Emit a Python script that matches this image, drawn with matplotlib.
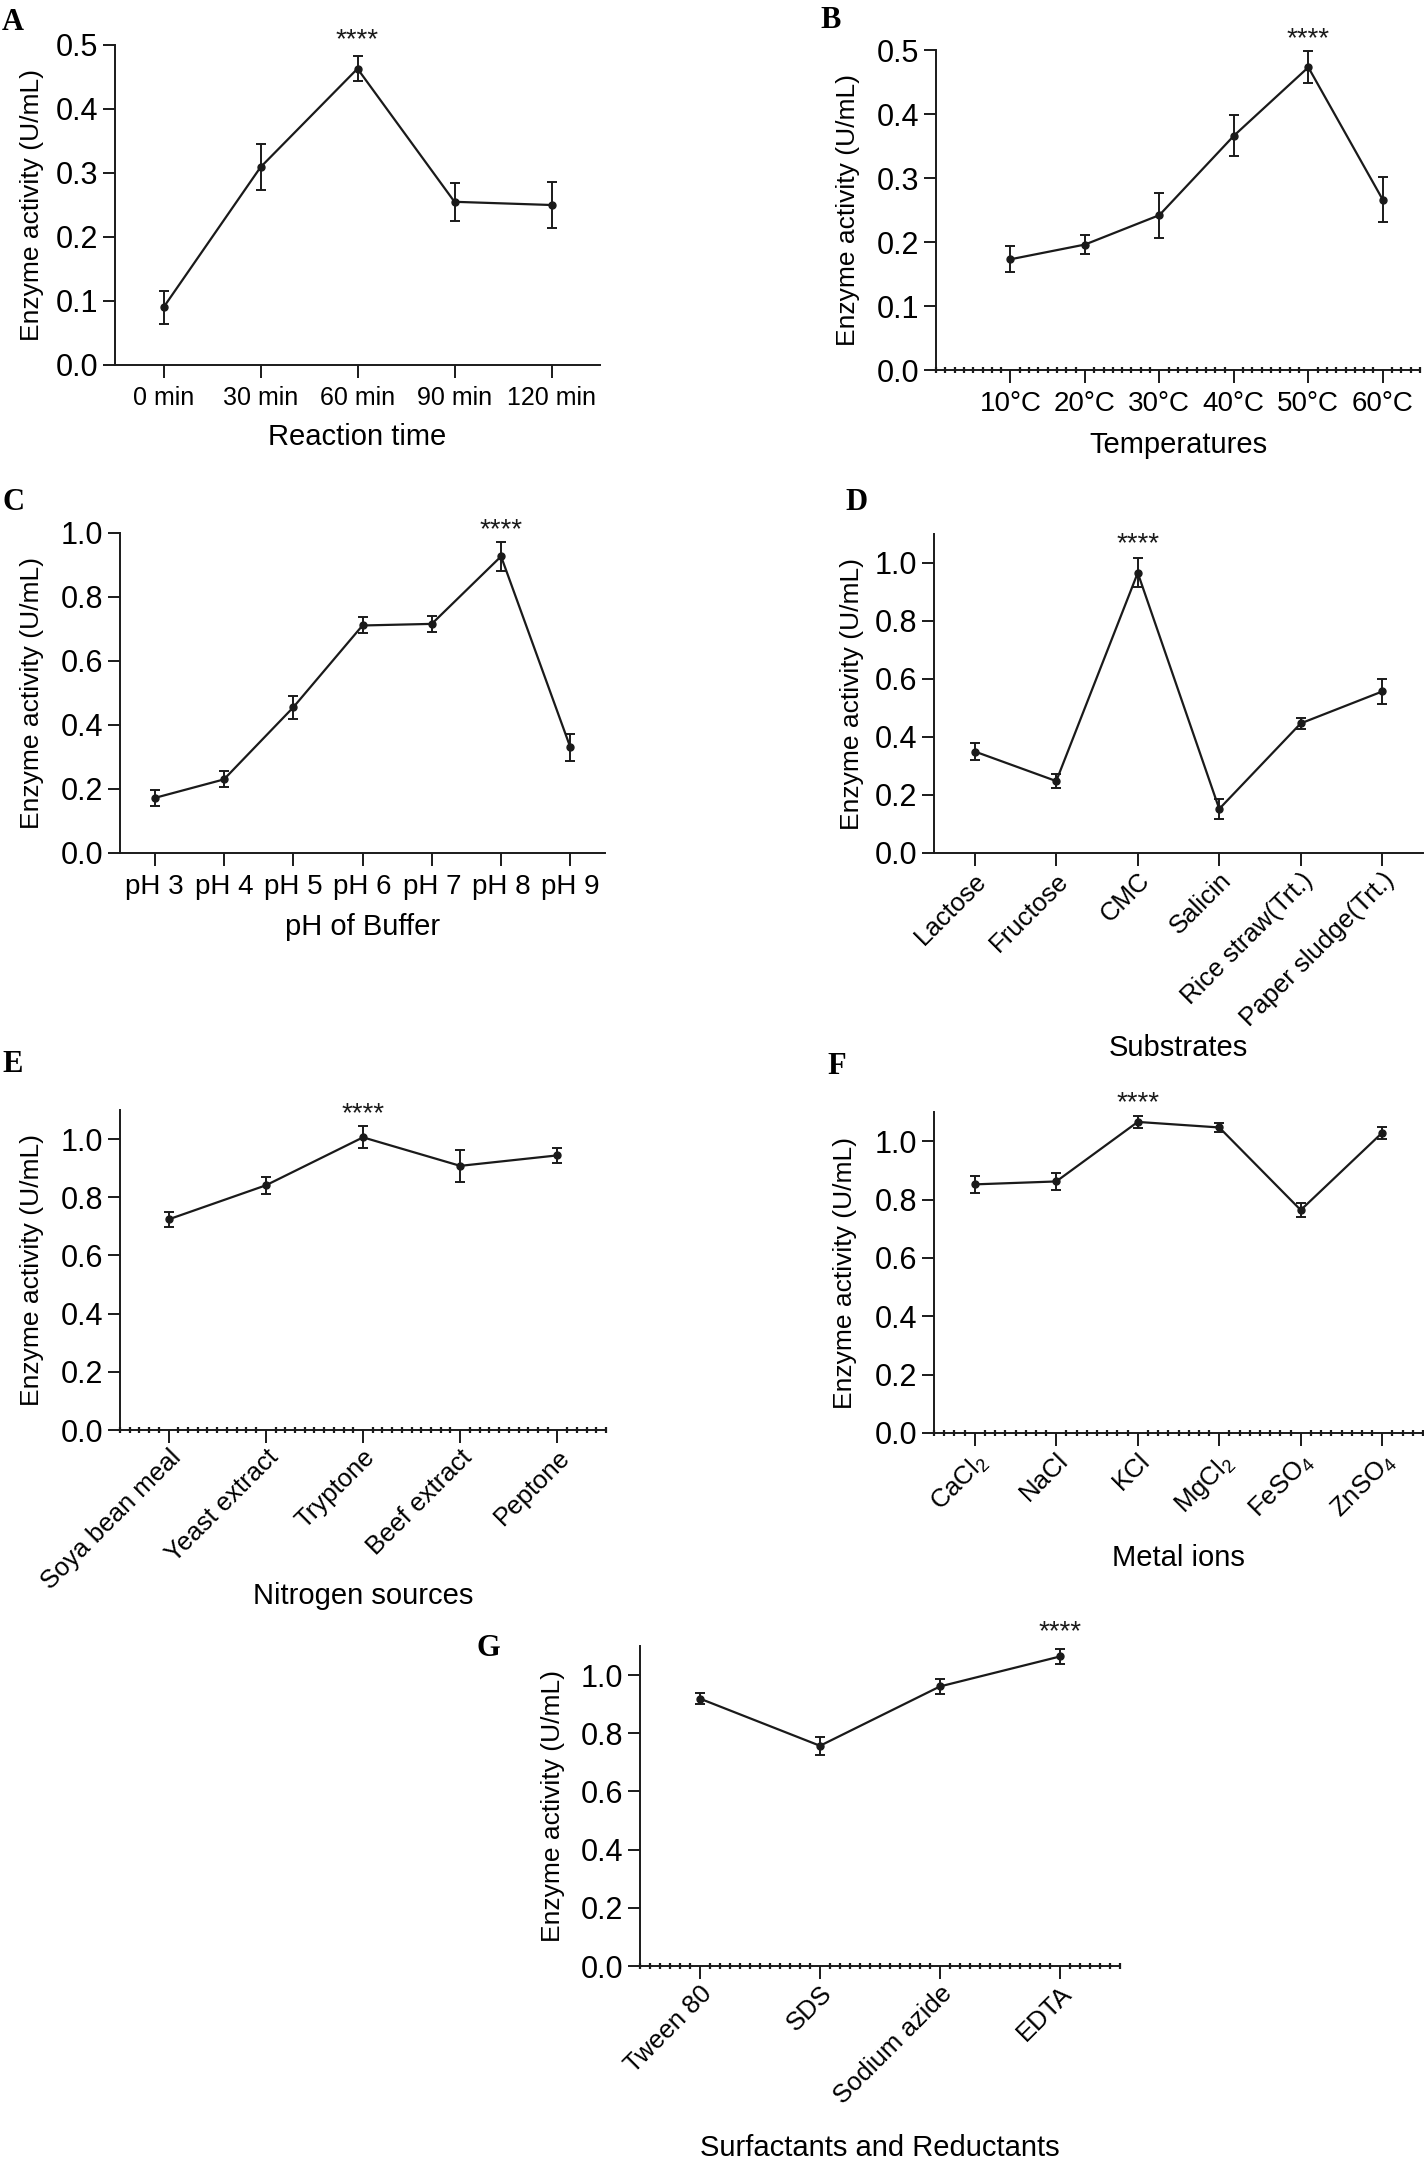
import matplotlib
matplotlib.use("Agg")
from matplotlib import pyplot as plt
from matplotlib.ticker import MultipleLocator, FormatStrFormatter

plt.rcParams['font.family'] = ['Liberation Sans', 'DejaVu Sans']
plt.rcParams['mathtext.fontset'] = 'custom'
plt.rcParams['mathtext.rm'] = 'Liberation Sans'
plt.rcParams['mathtext.it'] = 'Liberation Sans'

# A - reaction time
time_labels = ['0 min', '30 min', '60 min', '90 min', '120 min']
time_vals = [0.090, 0.309, 0.463, 0.255, 0.250]
time_err = [0.026, 0.036, 0.020, 0.030, 0.036]

# B - temperature
temp_labels = ['10°C', '20°C', '30°C', '40°C', '50°C', '60°C']
temp_vals = [0.173, 0.196, 0.242, 0.366, 0.473, 0.266]
temp_err = [0.020, 0.015, 0.035, 0.032, 0.025, 0.035]

# C - pH
ph_labels = ['pH 3', 'pH 4', 'pH 5', 'pH 6', 'pH 7', 'pH 8', 'pH 9']
ph_vals = [0.172, 0.230, 0.455, 0.711, 0.716, 0.927, 0.330]
ph_err = [0.026, 0.025, 0.035, 0.025, 0.025, 0.045, 0.043]

# D - substrates
sub_labels = ['Lactose', 'Fructose', 'CMC', 'Salicin', 'Rice straw(Trt.)', 'Paper sludge(Trt.)']
sub_vals = [0.350, 0.248, 0.966, 0.152, 0.447, 0.557]
sub_err = [0.030, 0.023, 0.050, 0.035, 0.018, 0.042]

# E - nitrogen sources
nit_labels = ['Soya bean meal', 'Yeast extract', 'Tryptone', 'Beef extract', 'Peptone']
nit_vals = [0.724, 0.841, 1.006, 0.908, 0.944]
nit_err = [0.025, 0.030, 0.038, 0.055, 0.025]

# F - metal ions
metal_labels = [r'CaCl$_2$', 'NaCl', 'KCl', r'MgCl$_2$', r'FeSO$_4$', r'ZnSO$_4$']
metal_vals = [0.852, 0.862, 1.066, 1.047, 0.764, 1.029]
metal_err = [0.030, 0.030, 0.020, 0.014, 0.025, 0.020]

# G - surfactants
surf_labels = ['Tween 80', 'SDS', 'Sodium azide', 'EDTA']
surf_vals = [0.919, 0.757, 0.961, 1.064]
surf_err = [0.020, 0.030, 0.027, 0.025]

W, H = 1424, 2158
fig = plt.figure(figsize=(W / 100, H / 100), dpi=100)


def panel(box, labels, vals, errs, xlim, ytop, ystep, star_i, star_y, xlabel,
          xlab_y, ylab_x, rot=False, minor=None, xfs=20):
    left, top, right, bottom = box
    ax = fig.add_axes([left / W, 1 - bottom / H, (right - left) / W, (bottom - top) / H])
    x = list(range(len(vals)))
    ax.errorbar(x, vals, yerr=errs, color='#1a1a1a', lw=1.6, marker='o', ms=5,
                capsize=3.5, elinewidth=1.4, capthick=1.4, clip_on=False, zorder=3)
    ax.set_xlim(*xlim)
    ax.set_ylim(0, ytop)
    ax.spines['top'].set_visible(False)
    ax.spines['right'].set_visible(False)
    for s in ('left', 'bottom'):
        ax.spines[s].set_linewidth(1.4)
        ax.spines[s].set_color('#1a1a1a')
    ax.yaxis.set_major_locator(MultipleLocator(ystep))
    ax.yaxis.set_major_formatter(FormatStrFormatter('%.1f'))
    ax.set_xticks(x)
    ax.tick_params(axis='both', which='major', length=9, width=1.4, color='#1a1a1a')
    ax.tick_params(axis='y', pad=3, labelsize=22)
    if rot:
        ax.set_xticklabels(labels, rotation=45, ha='right', rotation_mode='anchor',
                           fontsize=18.5)
        ax.tick_params(axis='x', pad=2)
    else:
        ax.set_xticklabels(labels, fontsize=xfs)
        ax.tick_params(axis='x', pad=6)
    if minor:
        ax.xaxis.set_minor_locator(MultipleLocator(1.0 / minor))
        ax.tick_params(axis='x', which='minor', direction='inout', length=4, width=1.6,
                       color='#1a1a1a')
    ax.set_ylabel('Enzyme activity (U/mL)', fontsize=19, va='center')
    ax.yaxis.set_label_coords(ylab_x, 0.5)
    ax.set_xlabel(xlabel, fontsize=21, va='center')
    ax.xaxis.set_label_coords(0.5, xlab_y)
    ax.text(star_i, star_y, '****', ha='center', va='baseline', fontsize=20,
            color='#1a1a1a')
    return ax


panel((115, 45, 600, 365), time_labels, time_vals, time_err, (-0.5, 4.5), 0.5, 0.1,
      2, 0.497, 'Reaction time', -0.225, -0.171, xfs=18)
panel((936, 50, 1420, 370), temp_labels, temp_vals, temp_err, (-1, 5.5), 0.5, 0.1,
      4, 0.506, 'Temperatures', -0.234, -0.182, minor=8)
panel((120, 533, 605, 853), ph_labels, ph_vals, ph_err, (-0.5, 6.5), 1.0, 0.2,
      5, 0.9875, 'pH of Buffer', -0.231, -0.181)
panel((934, 534, 1423, 853), sub_labels, sub_vals, sub_err, (-0.5, 5.5), 1.1, 0.2,
      2, 1.041, 'Substrates', -0.6125, -0.168, rot=True)
panel((120, 1110, 606, 1430), nit_labels, nit_vals, nit_err, (-0.5, 4.5), 1.1, 0.2,
      2, 1.062, 'Nitrogen sources', -0.519, -0.181, rot=True, minor=10)
panel((934, 1112, 1423, 1433), metal_labels, metal_vals, metal_err, (-0.5, 5.5), 1.1, 0.2,
      2, 1.107, 'Metal ions', -0.39, -0.182, rot=True, minor=8)
panel((640, 1646, 1120, 1966), surf_labels, surf_vals, surf_err, (-0.5, 3.5), 1.1, 0.2,
      3, 1.124, 'Surfactants and Reductants', -0.569, -0.181, rot=True, minor=12)

# panel letters
for letter, px, py in [('A', 2, 22), ('B', 820, 20), ('C', 2, 502), ('D', 845, 503),
                       ('E', 2, 1065), ('F', 827, 1067), ('G', 476, 1649)]:
    fig.text(px / W, 1 - py / H, letter, family=['Liberation Serif', 'DejaVu Serif'],
             weight='bold', fontsize=22, ha='left', va='center')

fig.savefig('out.png', dpi=100)
